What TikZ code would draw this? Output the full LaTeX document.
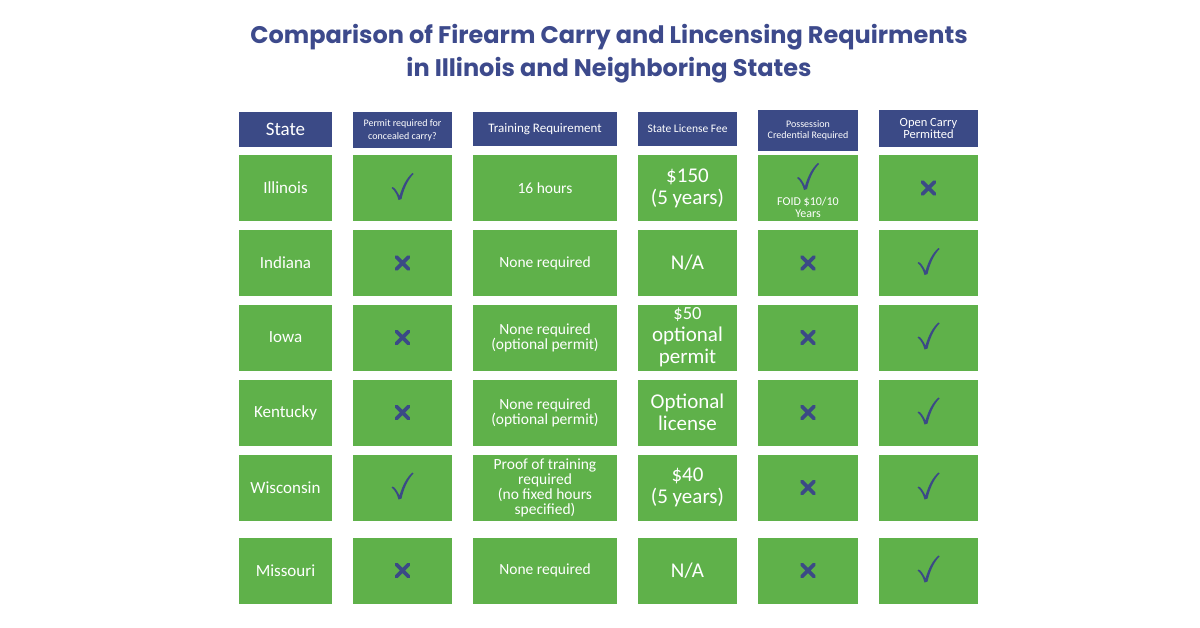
\documentclass[tikz,border=0pt]{standalone}
\usepackage{fontspec}
\setmainfont{Carlito}
\newfontfamily\titlefont{Poppins}
\definecolor{navy}{HTML}{3B4A86}
\definecolor{grn}{HTML}{5FB14A}
\definecolor{ttl}{HTML}{3D4A8C}
\begin{document}
\begin{tikzpicture}[x=1pt,y=-1pt,
 cell/.style={fill=grn,draw=none,inner sep=0pt,text=white,align=center,font=\fontsize{15.5}{15}\selectfont},
 head/.style={fill=navy,draw=none,inner sep=0pt,text=white,align=center},
 chk/.pic={\fill[navy] (-10,-1) .. controls (-8,-1) and (-5,4) .. (-3,8) .. controls (0,-2) and (4,-10) .. (10,-15) -- (11,-14) .. controls (5,-8) and (1,2) .. (-1,11) -- (-4,12) .. controls (-5,8) and (-7,3) .. (-11,0) -- cycle;},
 crs/.pic={\draw[navy,line width=3.8pt,line cap=round] (-6,-6) -- (6,6) (-6,6) -- (6,-6);}]
\useasboundingbox (0,0) rectangle (1200,627);
\fill[white] (0,0) rectangle (1200,627);
\node[text=ttl,font=\titlefont\bfseries\fontsize{24}{33}\selectfont,align=center] (title) at (609,54) {Comparison of Firearm Carry and Lincensing Requirments\\in Illinois and Neighboring States};
\node[head,minimum width=93,minimum height=35,font=\fontsize{19}{18}\selectfont] (h1) at (285.5,129.5) {State};
\node[head,minimum width=99,minimum height=36,font=\fontsize{10}{13}\selectfont] (h2) at (402.5,130) {Permit required for\\concealed carry?};
\node[head,minimum width=144,minimum height=34,font=\fontsize{13}{12}\selectfont] (h3) at (545,129) {Training Requirement};
\node[head,minimum width=99,minimum height=34,font=\fontsize{11.5}{12}\selectfont] (h4) at (687.5,129) {State License Fee};
\node[head,minimum width=100,minimum height=41,font=\fontsize{10}{11}\selectfont] (h5) at (808,130.5) {Possession\\Credential Required};
\node[head,minimum width=99,minimum height=37,font=\fontsize{12.5}{11.5}\selectfont] (h6) at (928.5,128.5) {Open Carry\\Permitted};
\newcommand\row[8]{%
 \node[cell,minimum width=93,minimum height=66,font=\fontsize{17}{16}\selectfont] (s#1) at (285.5,#2) {#3};
 \node[cell,minimum width=99,minimum height=66] (p#1) at (402.5,#2) {};
 \pic at (p#1) {#4};
 \node[cell,minimum width=144,minimum height=66] (t#1) at (545,#2) {#5};
 \node[cell,minimum width=99,minimum height=66,font=\fontsize{21}{22}\selectfont] (f#1) at (687.5,#2) {#6};
 \node[cell,minimum width=100,minimum height=66] (c#1) at (808,#2) {#7};
 \node[cell,minimum width=99,minimum height=66] (o#1) at (928.5,#2) {};
 \pic at (o#1) {#8};}
\row{1}{188}{Illinois}{chk}{16 hours}{\$150\\(5 years)}{}{crs}
\pic at (808,178) {chk};
\node[text=white,font=\fontsize{12}{12}\selectfont,align=center] (foid) at (808,207) {FOID \$10/10\\Years};
\row{2}{263}{Indiana}{crs}{None required}{N/A}{}{chk}
\pic at (c2) {crs};
\row{3}{337.5}{Iowa}{crs}{None required\\(optional permit)}{\fontsize{18.5}{17.5}\selectfont\$50\\optional\\permit}{}{chk}
\pic at (c3) {crs};
\row{4}{412.5}{Kentucky}{crs}{None required\\(optional permit)}{Optional\\license}{}{chk}
\pic at (c4) {crs};
\row{5}{487.5}{Wisconsin}{chk}{Proof of training\\required\\(no fixed hours\\specified)}{\$40\\(5 years)}{}{chk}
\pic at (c5) {crs};
\row{6}{570.5}{Missouri}{crs}{None required}{N/A}{}{chk}
\pic at (c6) {crs};
\end{tikzpicture}
\end{document}
